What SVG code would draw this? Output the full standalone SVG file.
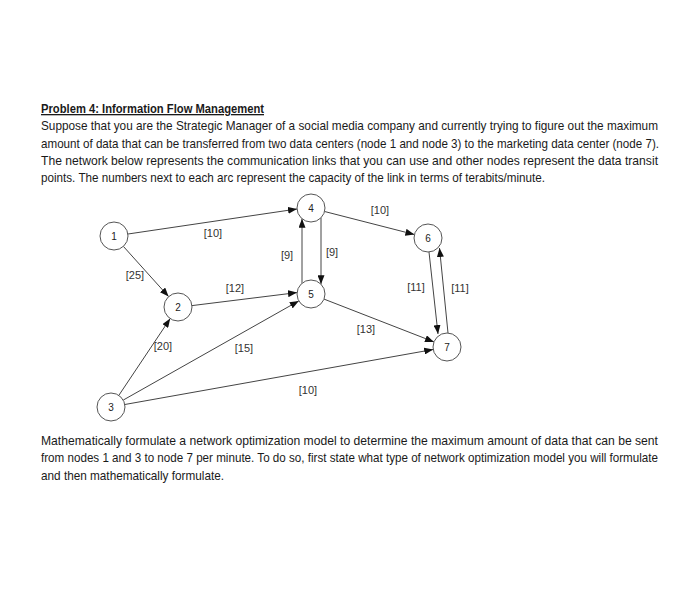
<svg xmlns="http://www.w3.org/2000/svg" width="700" height="590" viewBox="0 0 700 590">
<style>
.t{font-family:"Liberation Sans",Arial,sans-serif;font-size:12.4px;fill:#1a1a1a}
.h{font-weight:bold;text-decoration:underline;font-size:13px}
.n circle{fill:#fff;stroke:#555;stroke-width:1}
.n text{font-family:"Liberation Sans",Arial,sans-serif;font-size:10px;fill:#222;text-anchor:middle;dominant-baseline:central}
.e line{stroke:#444;stroke-width:1;marker-end:url(#ah)}
.l{font-family:"Liberation Sans",Arial,sans-serif;font-size:11px;fill:#333;text-anchor:middle;dominant-baseline:central}
</style>
<defs>
<marker id="ah" markerWidth="9" markerHeight="7" refX="9" refY="3.5" orient="auto" markerUnits="userSpaceOnUse">
<path d="M0,0 L9,3.5 L0,7 Z" fill="#111"/>
</marker>
</defs>
<rect width="700" height="590" fill="#fff"/>
<g id="text-top">
<text class="t h" x="41" y="113" textLength="223" lengthAdjust="spacingAndGlyphs">Problem 4: Information Flow Management</text>
<text class="t" x="41" y="130" textLength="617" lengthAdjust="spacingAndGlyphs">Suppose that you are the Strategic Manager of a social media company and currently trying to figure out the maximum</text>
<text class="t" x="41" y="147.5" textLength="618" lengthAdjust="spacingAndGlyphs">amount of data that can be transferred from two data centers (node 1 and node 3) to the marketing data center (node 7).</text>
<text class="t" x="41" y="164.5" textLength="617" lengthAdjust="spacingAndGlyphs">The network below represents the communication links that you can use and other nodes represent the data transit</text>
<text class="t" x="41" y="181.5" textLength="504" lengthAdjust="spacingAndGlyphs">points. The numbers next to each arc represent the capacity of the link in terms of terabits/minute.</text>
</g>
<g id="connectors" class="e">
<line x1="128" y1="234" x2="297" y2="209"/>
<line x1="123.4" y1="246.4" x2="168.6" y2="296.6"/>
<line x1="118.8" y1="395.4" x2="170.2" y2="318.6"/>
<line x1="192" y1="305.6" x2="297" y2="292.6"/>
<line x1="123.2" y1="400.1" x2="298.8" y2="300.9"/>
<line x1="124.8" y1="404.5" x2="433.2" y2="349.5"/>
<line x1="321" y1="217.8" x2="321" y2="284.2"/>
<line x1="302" y1="283.3" x2="302" y2="218.7"/>
<line x1="324.6" y1="211.5" x2="414.4" y2="234.5"/>
<line x1="324" y1="299.1" x2="434" y2="341.9"/>
<line x1="429" y1="252" x2="438" y2="334"/>
<line x1="448" y1="333" x2="439.5" y2="248"/>
</g>
<g id="labels">
<text class="l" x="213" y="233">[10]</text>
<text class="l" x="135" y="275">[25]</text>
<text class="l" x="235" y="288">[12]</text>
<text class="l" x="287" y="255">[9]</text>
<text class="l" x="332" y="252">[9]</text>
<text class="l" x="380" y="210">[10]</text>
<text class="l" x="416" y="287">[11]</text>
<text class="l" x="460" y="288">[11]</text>
<text class="l" x="366" y="329">[13]</text>
<text class="l" x="308" y="390">[10]</text>
<text class="l" x="163" y="346">[20]</text>
<text class="l" x="244" y="348">[15]</text>
</g>
<g id="node1" class="n"><circle cx="114" cy="236" r="14"/><text x="114" y="236">1</text></g>
<g id="node2" class="n"><circle cx="178" cy="307" r="14"/><text x="178" y="307">2</text></g>
<g id="node3" class="n"><circle cx="111" cy="407" r="14"/><text x="111" y="407">3</text></g>
<g id="node4" class="n"><circle cx="311" cy="208" r="14"/><text x="311" y="208">4</text></g>
<g id="node5" class="n"><circle cx="311" cy="294" r="14"/><text x="311" y="294">5</text></g>
<g id="node6" class="n"><circle cx="428" cy="238" r="14"/><text x="428" y="238">6</text></g>
<g id="node7" class="n"><circle cx="447" cy="347" r="14"/><text x="447" y="347">7</text></g>
<g id="text-bottom">
<text class="t" x="41" y="445" textLength="617" lengthAdjust="spacingAndGlyphs">Mathematically formulate a network optimization model to determine the maximum amount of data that can be sent</text>
<text class="t" x="41" y="462" textLength="617" lengthAdjust="spacingAndGlyphs">from nodes 1 and 3 to node 7 per minute. To do so, first state what type of network optimization model you will formulate</text>
<text class="t" x="41" y="480" textLength="183" lengthAdjust="spacingAndGlyphs">and then mathematically formulate.</text>
</g>
</svg>
